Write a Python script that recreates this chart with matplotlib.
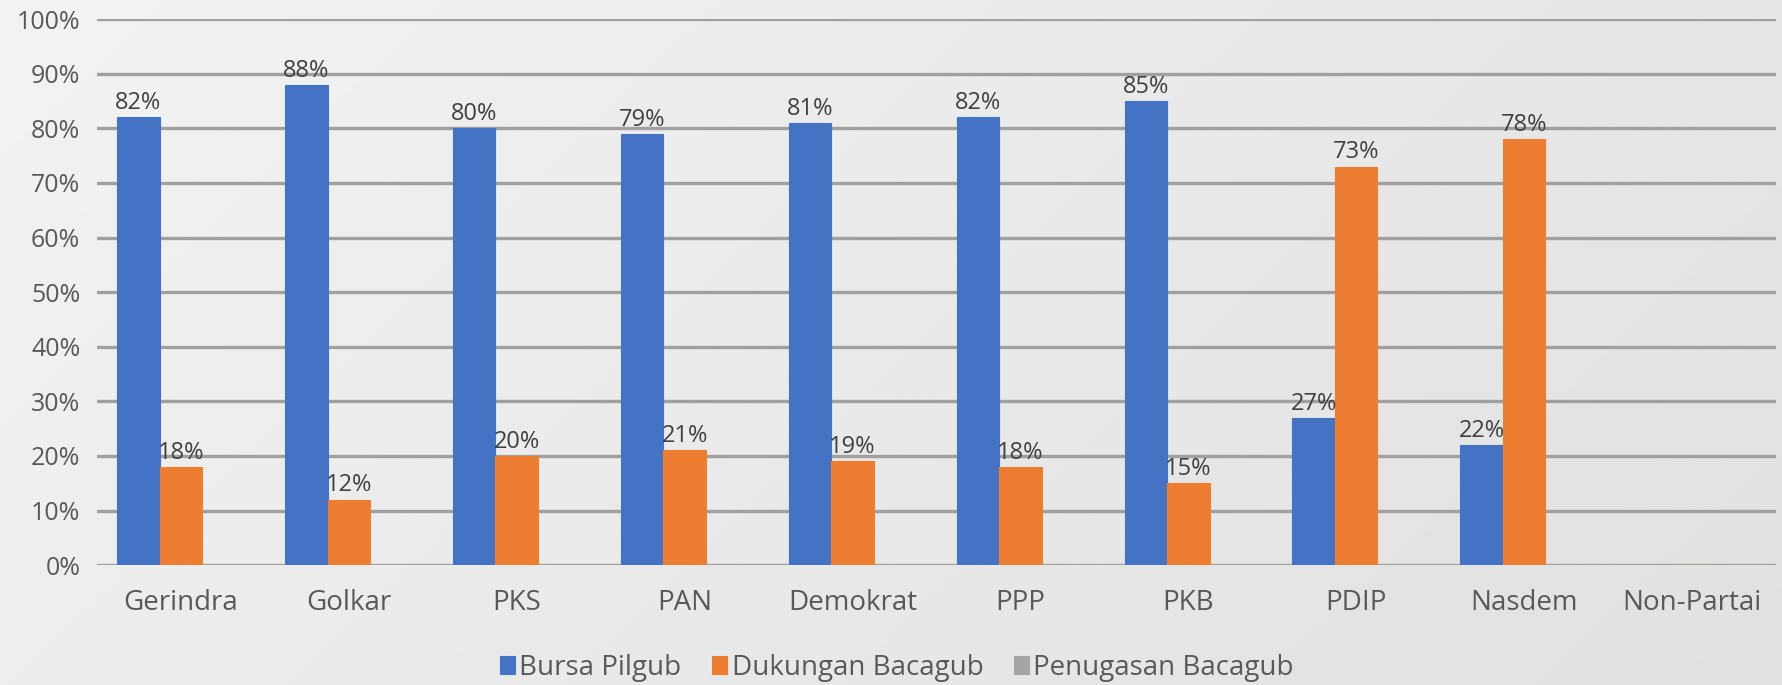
import matplotlib.pyplot as plt
import numpy as np

plt.rcParams["font.family"] = ["Open Sans", "DejaVu Sans"]

parties = ["Gerindra", "Golkar", "PKS", "PAN", "Demokrat",
           "PPP", "PKB", "PDIP", "Nasdem", "Non-Partai"]
bursa_pilgub = [82, 88, 80, 79, 81, 82, 85, 27, 22, 0]
dukungan_bacagub = [18, 12, 20, 21, 19, 18, 15, 73, 78, 0]
penugasan_bacagub = [0, 0, 0, 0, 0, 0, 0, 0, 0, 0]

series = [
    ("Bursa Pilgub", bursa_pilgub, "#4472C4"),
    ("Dukungan Bacagub", dukungan_bacagub, "#ED7D31"),
    ("Penugasan Bacagub", penugasan_bacagub, "#A5A5A5"),
]

fig = plt.figure(figsize=(17.83, 6.85), dpi=100)
fig.patch.set_facecolor("#eceef1")

# soft background gradient
bg = fig.add_axes([0, 0, 1, 1], zorder=-1)
grad = np.linspace(0, 1, 256)
xx, yy = np.meshgrid(grad, grad)
shade = 0.95 - 0.05 * xx - 0.02 * yy
bg.imshow(shade, cmap="gray", vmin=0, vmax=1, aspect="auto",
          extent=[0, 1, 0, 1], origin="upper")
bg.axis("off")

ax = fig.add_axes([0.0544, 0.175, 0.9416, 0.797])
ax.patch.set_alpha(0)

x = np.arange(len(parties))
width = 0.253
for i, (name, vals, color) in enumerate(series):
    pos = x + (i - 1) * width
    ax.bar(pos, vals, width, color=color, edgecolor=color,
           linewidth=0.8, label=name, zorder=3)
    for p, v in zip(pos, vals):
        if v > 0:
            ax.text(p, v + 0.4, f"{v}%", ha="center", va="bottom",
                    fontsize=17, color="#404040", zorder=4)

ax.set_xlim(-0.5, len(parties) - 0.5)
ax.set_ylim(0, 100)
ax.set_yticks(np.arange(0, 101, 10))
ax.set_yticklabels([f"{t}%" for t in range(0, 101, 10)])
ax.set_xticks(x)
ax.set_xticklabels(parties)
ax.grid(axis="y", color="#a0a0a0", linewidth=2.4, zorder=0)
ax.set_axisbelow(True)
for s in ax.spines.values():
    s.set_visible(False)
ax.tick_params(axis="both", length=0, colors="#595959")
ax.tick_params(axis="x", pad=17, labelsize=20)
ax.tick_params(axis="y", pad=12, labelsize=18)

fig.legend(loc="center", bbox_to_anchor=(0.503, 0.025), ncol=3,
           frameon=False, fontsize=20, labelcolor="#595959",
           handlelength=0.55, handleheight=0.6, handletextpad=0.15,
           columnspacing=1.1)

fig.savefig("out.png", dpi=100, facecolor=fig.get_facecolor())
